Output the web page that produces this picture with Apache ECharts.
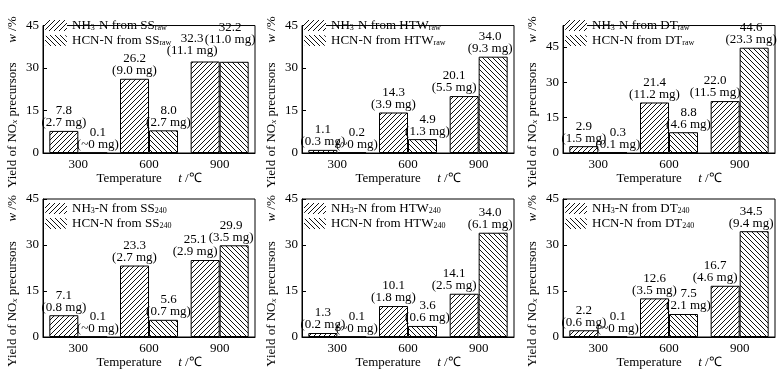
<!DOCTYPE html>
<html>
<head>
<meta charset="utf-8">
<script src="https://cdn.jsdelivr.net/npm/echarts@6/dist/echarts.min.js"></script>
<style>
  html, body { margin: 0; padding: 0; background: #fff; }
  #chart { width: 780px; height: 373px; }
</style>
</head>
<body>
<div id="chart"></div>
<script>
// temperatures on the x axis
const categories = ['300', '600', '900']
// one row per panel: SSraw, HTWraw, DTraw, SS240, HTW240, DT240
const sources = ['SS', 'HTW', 'DT', 'SS', 'HTW', 'DT']
const states = ['raw', 'raw', 'raw', '240', '240', '240']
const nh3Yield = [
  [7.8, 26.2, 32.3],
  [1.1, 14.3, 20.1],
  [2.9, 21.4, 22.0],
  [7.1, 23.3, 25.1],
  [1.3, 10.1, 14.1],
  [2.2, 12.6, 16.7]
]
const hcnYield = [
  [0.1, 8.0, 32.2],
  [0.2, 4.9, 34.0],
  [0.3, 8.8, 44.6],
  [0.1, 5.6, 29.9],
  [0.1, 3.6, 34.0],
  [0.1, 7.5, 34.5]
]
const nh3Mass = [
  ['2.7', '9.0', '11.1'],
  ['0.3', '3.9', '5.5'],
  ['1.5', '11.2', '11.5'],
  ['0.8', '2.7', '2.9'],
  ['0.2', '1.8', '2.5'],
  ['0.6', '3.5', '4.6']
]
const hcnMass = [
  ['~0', '2.7', '11.0'],
  ['~0', '1.3', '9.3'],
  ['0.1', '4.6', '23.3'],
  ['~0', '0.7', '3.5'],
  ['~0', '0.6', '6.1'],
  ['~0', '2.1', '9.4']
]
const yMax = [45, 45, 54, 45, 45, 45]
const yInterval = 15

const FONT = 'Liberation Serif'
const gridLefts = [43, 302, 563]
const gridTops = [16, 199]
const gridHeights = [137, 138]

function hatch (dir) {
  const s = 5
  const c = document.createElement('canvas')
  c.width = s
  c.height = s
  const ctx = c.getContext('2d')
  ctx.fillStyle = '#fff'
  ctx.fillRect(0, 0, s, s)
  ctx.strokeStyle = '#111'
  ctx.lineWidth = 1
  ctx.beginPath()
  if (dir > 0) {
    ctx.moveTo(-1, s + 1); ctx.lineTo(s + 1, -1)
    ctx.moveTo(-1, 1); ctx.lineTo(1, -1)
    ctx.moveTo(s - 1, s + 1); ctx.lineTo(s + 1, s - 1)
  } else {
    ctx.moveTo(-1, -1); ctx.lineTo(s + 1, s + 1)
    ctx.moveTo(s - 1, -1); ctx.lineTo(s + 1, 1)
    ctx.moveTo(-1, s - 1); ctx.lineTo(1, s + 1)
  }
  ctx.stroke()
  return c
}
const nh3Fill = { image: hatch(1), repeat: 'repeat' }
const hcnFill = { image: hatch(-1), repeat: 'repeat' }

const legendNames = {}
const grids = []
const xAxes = []
const yAxes = []
const legends = []
const series = []

for (let p = 0; p < 6; p++) {
  const row = Math.floor(p / 3)
  const col = p % 3
  grids.push({
    left: gridLefts[col],
    top: gridTops[row],
    width: 212,
    height: gridHeights[row],
    show: true,
    borderColor: '#000',
    borderWidth: 1
  })
  xAxes.push({
    type: 'category',
    gridIndex: p,
    data: categories,
    axisLine: { lineStyle: { color: '#000', width: 1 } },
    axisTick: { inside: true, length: 3, lineStyle: { color: '#000' } },
    axisLabel: { color: '#000', fontSize: 13, fontFamily: FONT, margin: 5 },
    name: '{t|Temperature}{t|     }{i|t}{t| /℃}',
    nameLocation: 'middle',
    nameGap: 18,
    nameTextStyle: {
      rich: {
        t: { fontSize: 13, fontFamily: FONT, color: '#000' },
        i: { fontSize: 13, fontFamily: FONT, fontStyle: 'italic', color: '#000' }
      }
    }
  })
  yAxes.push({
    type: 'value',
    gridIndex: p,
    min: 0,
    max: yMax[p],
    interval: yInterval,
    splitLine: { show: false },
    axisLine: { show: true, lineStyle: { color: '#000', width: 1 } },
    axisTick: { show: true, inside: true, length: 4, lineStyle: { color: '#000' } },
    axisLabel: {
      color: '#000', fontSize: 13, fontFamily: FONT, margin: 4,
      showMaxLabel: yMax[p] % yInterval === 0
    },
    name: '{t|Yield of NO}{sub|x}{t| precursors      }{i|w}{t| /%}{pad| }',
    nameLocation: 'middle',
    nameGap: 24,
    nameTextStyle: {
      rich: {
        t: { fontSize: 13, fontFamily: FONT, color: '#000' },
        i: { fontSize: 13, fontFamily: FONT, fontStyle: 'italic', color: '#000' },
        sub: { fontSize: 9, fontFamily: FONT, fontStyle: 'italic', color: '#000', verticalAlign: 'bottom' },
        pad: { width: 26 }
      }
    }
  })

  const nh3Name = 'NH3-N from ' + sources[p] + states[p]
  const hcnName = 'HCN-N from ' + sources[p] + states[p]
  legendNames[nh3Name] = '{n|NH}{s|3}{n|-N from ' + sources[p] + '}{s|' + states[p] + '}'
  legendNames[hcnName] = '{n|HCN-N from ' + sources[p] + '}{s|' + states[p] + '}'
  legends.push({
    data: [nh3Name, hcnName],
    orient: 'vertical',
    left: gridLefts[col] + 2,
    top: gridTops[row] + 3,
    padding: 0,
    itemWidth: 22,
    itemHeight: 11,
    itemGap: 2,
    selectedMode: false,
    itemStyle: { borderWidth: 0 },
    formatter: name => legendNames[name],
    textStyle: {
      rich: {
        n: { fontSize: 13, fontFamily: FONT, color: '#000' },
        s: { fontSize: 8, fontFamily: FONT, color: '#000', verticalAlign: 'bottom' }
      }
    }
  })

  // labels at 900 sit aside when the pair is level
  const level = Math.abs(nh3Yield[p][2] - hcnYield[p][2]) < 2
  const nh3Data = nh3Yield[p].map((v, i) => ({
    value: v,
    label: { offset: i === 2 ? (level ? [-13, -3] : [-10, 0]) : [0, 0] },
    mass: nh3Mass[p][i]
  }))
  const hcnData = hcnYield[p].map((v, i) => ({
    value: v,
    label: { offset: i < 2 ? [5, 0] : (level ? [-4, -14] : [-3, 0]) },
    mass: hcnMass[p][i]
  }))
  const labelStyle = {
    show: true,
    position: 'top',
    distance: 2,
    color: '#000',
    fontSize: 13,
    fontFamily: FONT,
    lineHeight: 12,
    formatter: params => params.value.toFixed(1) + '\n(' + params.data.mass + ' mg)'
  }
  series.push({
    name: nh3Name,
    type: 'bar',
    xAxisIndex: p,
    yAxisIndex: p,
    barWidth: 29,
    barGap: '0%',
    itemStyle: { color: nh3Fill, borderColor: '#000', borderWidth: 1 },
    label: labelStyle,
    data: nh3Data
  })
  series.push({
    name: hcnName,
    type: 'bar',
    xAxisIndex: p,
    yAxisIndex: p,
    barWidth: 29,
    barGap: '0%',
    itemStyle: { color: hcnFill, borderColor: '#000', borderWidth: 1 },
    label: labelStyle,
    data: hcnData
  })
}

const myChart = echarts.init(document.getElementById('chart'), null, { renderer: 'canvas' })
myChart.setOption({
  animation: false,
  backgroundColor: '#fff',
  textStyle: { fontFamily: FONT, color: '#000' },
  grid: grids,
  xAxis: xAxes,
  yAxis: yAxes,
  legend: legends,
  series: series
})
</script>
</body>
</html>
